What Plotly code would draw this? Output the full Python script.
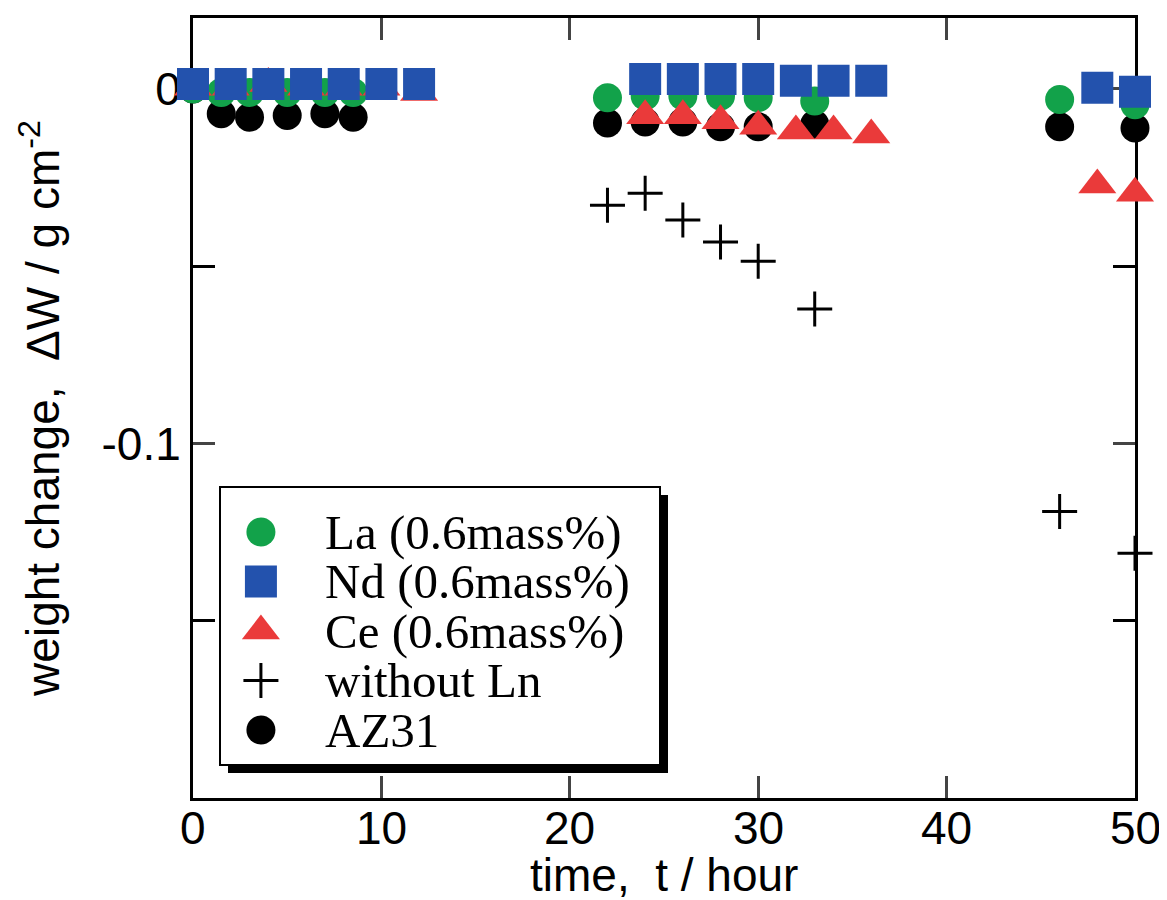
import plotly.graph_objects as go

# ---------------- data ----------------
la_x = [0, 1.5, 3, 5, 7, 8.5, 22, 24, 26, 28, 30, 33, 46, 50]
la_y = [0, -0.001, -0.001, -0.001, -0.001, -0.001, -0.0025, -0.002, -0.002, -0.002,
        -0.0025, -0.0034, -0.003, -0.0045]

nd_x = [0, 2, 4, 6, 8, 10, 12, 24, 26, 28, 30, 32, 34, 36, 48, 50]
nd_y = [0.0014, 0.0014, 0.0014, 0.0014, 0.0014, 0.0014, 0.0014,
        0.0028, 0.0028, 0.0028, 0.0028, 0.0023, 0.0023, 0.0023, 0.0003, -0.0008]

ce_x = [0, 2, 4, 6, 8, 10, 12, 24, 26, 28, 30, 32, 34, 36, 48, 50]
ce_y = [0.0005, 0.0005, 0.0015, 0.0005, 0.0005, 0.0005, -0.001,
        -0.0076, -0.0076, -0.009, -0.0105, -0.0119, -0.0119, -0.013, -0.0271, -0.0294]

noln_x = [22, 24, 26, 28, 30, 33, 46, 50]
noln_y = [-0.0328, -0.0294, -0.037, -0.0432, -0.0486, -0.0621, -0.1192, -0.131]

az_x = [0, 1.5, 3, 5, 7, 8.5, 22, 24, 26, 28, 30, 33, 46, 50]
az_y = [0, -0.007, -0.008, -0.0075, -0.007, -0.008, -0.0096, -0.0093, -0.0093,
        -0.0107, -0.0107, -0.0100, -0.0107, -0.011]

x_ticks = [0, 10, 20, 30, 40, 50]
x_tick_text = ["0", "10", "20", "30", "40", "50"]
y_ticks = [0, -0.1]
y_tick_text = ["0", "-0.1"]

x_title = "time,\u00a0\u00a0t / hour"
y_title = "weight change,\u00a0\u00a0\u0394W / g cm<sup>-2</sup>"

legend_labels = ["La (0.6mass%)", "Nd (0.6mass%)", "Ce (0.6mass%)", "without Ln", "AZ31"]

# ---------------- styles ----------------
GREEN = "#12a24a"
BLUE = "#2352ad"
RED = "#ea3a3a"
BLACK = "#000000"

styles = {
    "La (0.6mass%)": dict(symbol="circle", color=GREEN, size=29),
    "Nd (0.6mass%)": dict(symbol="square", color=BLUE, size=32),
    "Ce (0.6mass%)": dict(symbol="triangle-up", color=RED, size=33),
    "without Ln": dict(symbol="cross-thin", color=BLACK, size=25),
    "AZ31": dict(symbol="circle", color=BLACK, size=29),
}
data = {
    "La (0.6mass%)": (la_x, la_y),
    "Nd (0.6mass%)": (nd_x, nd_y),
    "Ce (0.6mass%)": (ce_x, ce_y),
    "without Ln": (noln_x, noln_y),
    "AZ31": (az_x, az_y),
}
draw_order = ["AZ31", "La (0.6mass%)", "Ce (0.6mass%)", "Nd (0.6mass%)", "without Ln"]


def marker_for(name):
    s = styles[name]
    if s["symbol"] == "cross-thin":
        return dict(symbol=s["symbol"], size=s["size"], color=s["color"],
                    line=dict(color=s["color"], width=3))
    return dict(symbol=s["symbol"], size=s["size"], color=s["color"], line=dict(width=0))


SANS = "Liberation Sans, Arial, Helvetica, sans-serif"
SERIF = "Liberation Serif, Times New Roman, serif"

fig = go.Figure()
for name in draw_order:
    xs, ys = data[name]
    fig.add_trace(go.Scatter(x=xs, y=ys, mode="markers", name=name,
                             marker=marker_for(name), cliponaxis=False,
                             showlegend=False))

# legend swatches drawn on a small helper subplot (row = index in legend list)
for i, name in enumerate(legend_labels):
    fig.add_trace(go.Scatter(x=[0.093], y=[i], mode="markers", marker=marker_for(name),
                             xaxis="x2", yaxis="y2", showlegend=False, cliponaxis=False,
                             hoverinfo="skip"))
    fig.add_annotation(x=0.234, y=i, xref="x2", yref="y2", text=name, showarrow=False,
                       xanchor="left", yanchor="middle",
                       font=dict(family=SERIF, size=49, color="black"))

# x tick labels placed at the tick values (close to the axis, as in the reference)
for v, t in zip(x_ticks, x_tick_text):
    fig.add_annotation(x=v, xref="x", y=0, yref="paper", text=t, showarrow=False,
                       xanchor="center", yanchor="middle", yshift=-30,
                       font=dict(family=SANS, size=46, color="black"))
fig.add_annotation(x=0.5, xref="paper", y=0, yref="paper", text=x_title, showarrow=False,
                   xanchor="center", yanchor="middle", yshift=-77,
                   font=dict(family=SANS, size=46, color="black"))

W, H = 1167, 900
L, R, T, B = 185, 40, 10, 110
pw, ph = W - L - R, H - T - B


def px(xp):
    return (xp - L) / pw


def py(yp):
    return (T + ph - yp) / ph


box = (212, 479, 652, 757)
shadow_off = 8

fig.add_shape(type="rect", xref="paper", yref="paper", layer="below",
              x0=px(box[0] + shadow_off), x1=px(box[2] + shadow_off),
              y0=py(box[3] + shadow_off), y1=py(box[1] + shadow_off),
              fillcolor="black", line=dict(width=0))
fig.add_shape(type="rect", xref="paper", yref="paper", layer="below",
              x0=px(box[0]), x1=px(box[2]), y0=py(box[3]), y1=py(box[1]),
              fillcolor="white", line=dict(color="black", width=2))

row0, row_step = 524, 49.5
fig.update_layout(
    template="none",
    width=W, height=H,
    margin=dict(l=L, r=R, t=T, b=B, autoexpand=False),
    paper_bgcolor="white",
    plot_bgcolor="rgba(0,0,0,0)",
    showlegend=False,
    font=dict(family=SANS, color="black"),
    xaxis=dict(range=[0, 50], tickvals=x_ticks, ticks="inside", ticklen=22, tickwidth=3,
               showticklabels=False,
               showline=True, linewidth=3, linecolor="black", mirror="ticks",
               showgrid=False, zeroline=False, layer="below traces", automargin=False),
    yaxis=dict(range=[-0.2, 0.02], tickvals=y_ticks, ticktext=y_tick_text,
               ticks="inside", ticklen=22, tickwidth=3,
               minor=dict(dtick=0.05, tick0=0, ticks="inside", ticklen=22, tickwidth=3,
                          tickcolor="black"),
               showline=True, linewidth=3, linecolor="black", mirror="ticks",
               showgrid=False, zeroline=False, layer="below traces", automargin=False,
               tickfont=dict(family=SANS, size=46),
               title=dict(text=y_title, font=dict(family=SANS, size=46), standoff=28)),
    xaxis2=dict(domain=[px(box[0]), px(box[2])], range=[0, 1], anchor="y2",
                visible=False, fixedrange=True, automargin=False),
    yaxis2=dict(domain=[py(box[3]), py(box[1])],
                range=[(box[3] - row0) / row_step, (box[1] - row0) / row_step],
                anchor="x2", visible=False, fixedrange=True, automargin=False),
)

fig.write_html("out.html")
